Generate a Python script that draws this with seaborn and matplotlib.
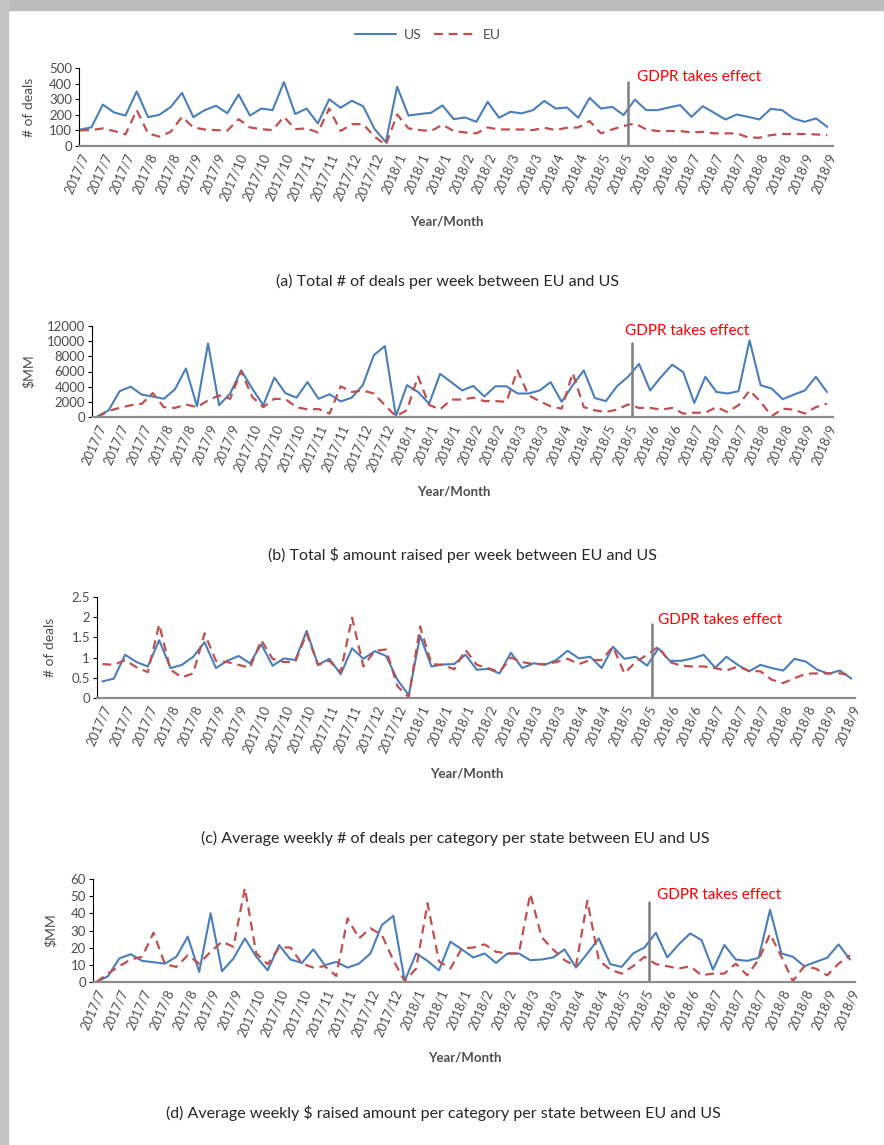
import matplotlib
matplotlib.use('Agg')
import matplotlib.pyplot as plt
import matplotlib.transforms as mtransforms
from matplotlib.patches import Rectangle
import seaborn as sns

# weekly points, Jul 2017 .. Sep 2018 (67 weeks); every 2nd week labelled
tick_labels = ['2017/7', '2017/7', '2017/7', '2017/8', '2017/8', '2017/9', '2017/9',
               '2017/10', '2017/10', '2017/10', '2017/11', '2017/11', '2017/12', '2017/12',
               '2018/1', '2018/1', '2018/1', '2018/2', '2018/2', '2018/3', '2018/3',
               '2018/4', '2018/4', '2018/5', '2018/5', '2018/6', '2018/6',
               '2018/7', '2018/7', '2018/7', '2018/8', '2018/8', '2018/9', '2018/9']
weeks = list(range(67))
gdpr_week = 48.4

us_deals = [105, 120, 265, 215, 195, 350, 185, 200, 250, 340, 185, 230, 258, 210, 330, 195, 240,
            230, 410, 205, 240, 145, 300, 245, 290, 255, 110, 25, 380, 195, 205, 213, 260, 172,
            183, 155, 283, 181, 219, 209, 230, 289, 240, 247, 181, 309, 240, 251, 198, 298, 230,
            230, 247, 262, 187, 255, 213, 170, 202, 187, 170, 238, 230, 177, 155, 177, 123]
eu_deals = [100, 102, 113, 96, 74, 230, 81, 60, 91, 187, 119, 106, 102, 98, 172, 119, 108,
            102, 187, 108, 113, 87, 240, 96, 140, 140, 60, 6, 202, 113, 102, 96, 136, 96,
            87, 81, 119, 106, 106, 106, 102, 117, 102, 117, 119, 160, 81, 106, 128, 145, 106,
            96, 96, 96, 87, 91, 81, 81, 81, 55, 53, 70, 77, 77, 77, 74, 70]

us_amount = [100, 880, 3400, 4000, 2950, 2700, 2400, 3650, 6400, 1400, 9700, 1550, 3100, 6150,
             3750, 1550, 5200, 3150, 2550, 4600, 2400, 3000, 2050, 2550, 4200, 8150, 9350, 100,
             4200, 3300, 1750, 5700, 4600, 3500, 4100, 2700, 4050, 4050, 3100, 3100, 3500, 4600,
             2000, 4200, 6150, 2500, 2100, 4050, 5300, 7000, 3500, 5300, 6900, 5900, 1850, 5300,
             3300, 3100, 3400, 10100, 4200, 3750, 2350, 2950, 3500, 5300, 3300]
eu_amount = [0, 800, 1200, 1550, 1750, 3150, 1300, 1200, 1650, 1300, 2200, 2850, 2400, 6050,
             2650, 1300, 2400, 2350, 1300, 1000, 1050, 450, 4050, 3300, 3500, 3100, 1550, 100,
             900, 5350, 1600, 1000, 2300, 2300, 2550, 2100, 2100, 2000, 6150, 2850, 2100, 1400,
             1100, 5800, 1300, 880, 660, 970, 1650, 1200, 1200, 970, 1200, 450, 570, 570,
             1300, 660, 1550, 3500, 2000, 100, 1100, 970, 450, 1300, 1750]

us_avg_deals = [0.41, 0.48, 1.07, 0.89, 0.78, 1.43, 0.74, 0.82, 1.02, 1.38, 0.74, 0.92, 1.04,
                0.86, 1.33, 0.80, 0.98, 0.94, 1.66, 0.82, 0.97, 0.59, 1.23, 0.97, 1.16, 1.04,
                0.45, 0.07, 1.54, 0.78, 0.83, 0.84, 1.07, 0.70, 0.72, 0.61, 1.12, 0.74, 0.86,
                0.82, 0.94, 1.17, 0.98, 1.02, 0.74, 1.27, 0.97, 1.02, 0.80, 1.23, 0.92, 0.92,
                0.98, 1.07, 0.75, 1.02, 0.82, 0.66, 0.82, 0.74, 0.68, 0.97, 0.90, 0.70, 0.60,
                0.68, 0.48]
eu_avg_deals = [0.84, 0.82, 0.94, 0.76, 0.64, 1.82, 0.70, 0.51, 0.61, 1.60, 0.92, 0.89, 0.82,
                0.75, 1.43, 0.97, 0.89, 0.90, 1.60, 0.82, 0.92, 0.64, 1.99, 0.78, 1.17, 1.20,
                0.29, 0.02, 1.77, 0.84, 0.82, 0.71, 1.19, 0.82, 0.74, 0.64, 1.00, 0.89, 0.84,
                0.84, 0.89, 0.97, 0.84, 0.94, 0.94, 1.27, 0.61, 0.89, 1.07, 1.27, 0.89, 0.80,
                0.78, 0.78, 0.74, 0.68, 0.78, 0.67, 0.66, 0.45, 0.37, 0.49, 0.60, 0.61, 0.61,
                0.61, 0.56]

us_avg_amount = [0, 3.3, 13.7, 16.2, 12.3, 11.5, 10.7, 14.7, 26.4, 5.9, 40.1, 6.3, 13.7, 25.4,
                 14.7, 6.8, 21.5, 13.1, 11.1, 19.0, 9.8, 11.7, 8.4, 10.7, 16.6, 33.2, 38.5, 0.6,
                 16.6, 12.3, 6.8, 23.5, 19.0, 14.3, 16.6, 11.1, 16.6, 16.6, 12.7, 13.1, 14.3,
                 19.0, 8.4, 16.6, 25.4, 10.4, 8.8, 16.6, 20.1, 28.7, 14.3, 21.9, 28.3, 24.4, 7.2,
                 21.5, 13.1, 12.3, 14.1, 42.0, 16.6, 14.7, 9.2, 11.7, 14.1, 21.9, 13.1]
eu_avg_amount = [0, 4.9, 9.2, 13.1, 14.7, 28.7, 10.4, 8.8, 15.6, 10.7, 17.6, 23.5, 20.5, 54.7,
                 16.6, 10.4, 20.1, 20.1, 10.7, 8.4, 9.2, 3.5, 37.1, 25.4, 31.3, 27.4, 12.7, 0.6,
                 7.8, 45.9, 12.0, 7.8, 19.5, 20.1, 21.9, 17.6, 16.6, 16.6, 51.4, 26.0, 19.0, 12.7,
                 9.2, 47.3, 12.7, 7.2, 4.9, 9.2, 14.7, 10.4, 9.2, 7.8, 9.2, 3.9, 4.9, 4.9, 10.7,
                 3.9, 13.1, 27.9, 14.7, 0.6, 9.2, 7.8, 3.9, 10.7, 15.6]

captions = ['(a) Total # of deals per week between EU and US',
            '(b) Total $ amount raised per week between EU and US',
            '(c) Average weekly # of deals per category per state between EU and US',
            '(d) Average weekly $ raised amount per category per state between EU and US']

US_COLOR = '#4a7ebb'
EU_COLOR = '#c0504d'
TEXT_GRAY = '#4d4d4d'
W, H = 884, 1145

sns.set_style('white')
plt.rcParams['font.family'] = ['Lato', 'DejaVu Sans']


def px_box(left, right, top, bottom):
    return [left / W, 1 - bottom / H, (right - left) / W, (bottom - top) / H]


# pixel layout of each panel: axes box, x-limits, y-axis setup, gdpr label spot,
# ylabel x, xlabel y, caption centre
panels = [
    dict(us=us_deals, eu=eu_deals, box=(79, 833, 68, 146), xlim=(-0.1, 66.5),
         ylim=500, ystep=100, ylabel='# of deals', ylab_x=-0.058, line_top=0.82,
         gdpr=(49.2, 0.88), xlab_y=222, cap=(448, 281)),
    dict(us=us_amount, eu=eu_amount, box=(92, 833, 326, 417), xlim=(-0.5, 66.55),
         ylim=12000, ystep=2000, ylabel=r'\$MM', ylab_x=-0.077, line_top=0.81,
         gdpr=(47.7, 0.94), xlab_y=492, cap=(462, 555)),
    dict(us=us_avg_deals, eu=eu_avg_deals, box=(97, 855, 597, 698), xlim=(-0.48, 66.33),
         ylim=2.5, ystep=0.5, ylabel='# of deals', ylab_x=-0.054, line_top=0.73,
         gdpr=(49.0, 0.77), xlab_y=773, cap=(455, 838)),
    dict(us=us_avg_amount, eu=eu_avg_amount, box=(93, 855, 879, 982), xlim=(-0.3, 66.44),
         ylim=60, ystep=10, ylabel=r'\$MM', ylab_x=-0.048, line_top=0.78,
         gdpr=(49.1, 0.84), xlab_y=1057, cap=(443, 1113)),
]

fig = plt.figure(figsize=(W / 100, H / 100), dpi=100)

# page frame shading (top and left edge)
fig.patches.append(Rectangle((0, 1 - 10 / H), 1, 10 / H, transform=fig.transFigure,
                             color='#bcbcbc', zorder=0))
fig.patches.append(Rectangle((0, 0), 8 / W, 1, transform=fig.transFigure,
                             color='#c4c4c4', zorder=0))

for i, p in enumerate(panels):
    left, right, top, bottom = p['box']
    ax = fig.add_axes(px_box(left, right, top, bottom))
    sns.lineplot(x=weeks, y=p['us'], ax=ax, color=US_COLOR, linewidth=1.5, label='US')
    sns.lineplot(x=weeks, y=p['eu'], ax=ax, color=EU_COLOR, linewidth=1.6, label='EU',
                 linestyle=(0, (4, 2.6)))
    ax.get_legend().remove()
    ax.axvline(gdpr_week, ymin=0, ymax=p['line_top'], color='#7f7f7f', linewidth=1.8)
    trans = mtransforms.blended_transform_factory(ax.transData, ax.transAxes)
    ax.text(p['gdpr'][0], p['gdpr'][1], 'GDPR takes effect', transform=trans,
            color='#ff0000', fontsize=11, ha='left', va='center')

    ax.set_xlim(*p['xlim'])
    ax.set_ylim(0, p['ylim'])
    yt = [p['ystep'] * k for k in range(int(round(p['ylim'] / p['ystep'])) + 1)]
    ax.set_yticks(yt)
    ax.set_yticklabels(['{:g}'.format(v) for v in yt], fontsize=9.5, color=TEXT_GRAY)
    ax.set_xticks(weeks[::2])
    ax.set_xticklabels(tick_labels, rotation=66, ha='right', rotation_mode='anchor',
                       fontsize=9.2, color=TEXT_GRAY)
    ax.tick_params(axis='x', length=0, pad=4)
    ax.tick_params(axis='y', length=3, width=0.8, color='black', direction='out',
                   left=True, pad=2)
    for s in ['top', 'right']:
        ax.spines[s].set_visible(False)
    ax.spines['left'].set_color('black')
    ax.spines['left'].set_linewidth(0.8)
    ax.spines['bottom'].set_color('#8c8c8c')
    ax.spines['bottom'].set_linewidth(1.6)
    ax.set_xlabel('')
    ax.set_ylabel(p['ylabel'], fontsize=10, color=TEXT_GRAY)
    ax.yaxis.set_label_coords(p['ylab_x'], 0.5)

    fig.text((left + right) / 2 / W - 0.01, 1 - p['xlab_y'] / H, 'Year/Month',
             ha='center', va='center', fontsize=9.5, color=TEXT_GRAY, fontweight='bold')
    fig.text(p['cap'][0] / W, 1 - p['cap'][1] / H, captions[i].replace('$', r'\$'),
             ha='center', va='center', fontsize=11.5, color='#262626')

    if i == 0:
        handles, labels = ax.get_legend_handles_labels()
        fig.legend(handles, labels, loc='center', bbox_to_anchor=(428 / W, 1 - 35 / H),
                   ncol=2, frameon=False, fontsize=10, handlelength=2.9,
                   handletextpad=0.6, columnspacing=0.9, labelcolor=TEXT_GRAY)

fig.savefig('out.png', dpi=100)
